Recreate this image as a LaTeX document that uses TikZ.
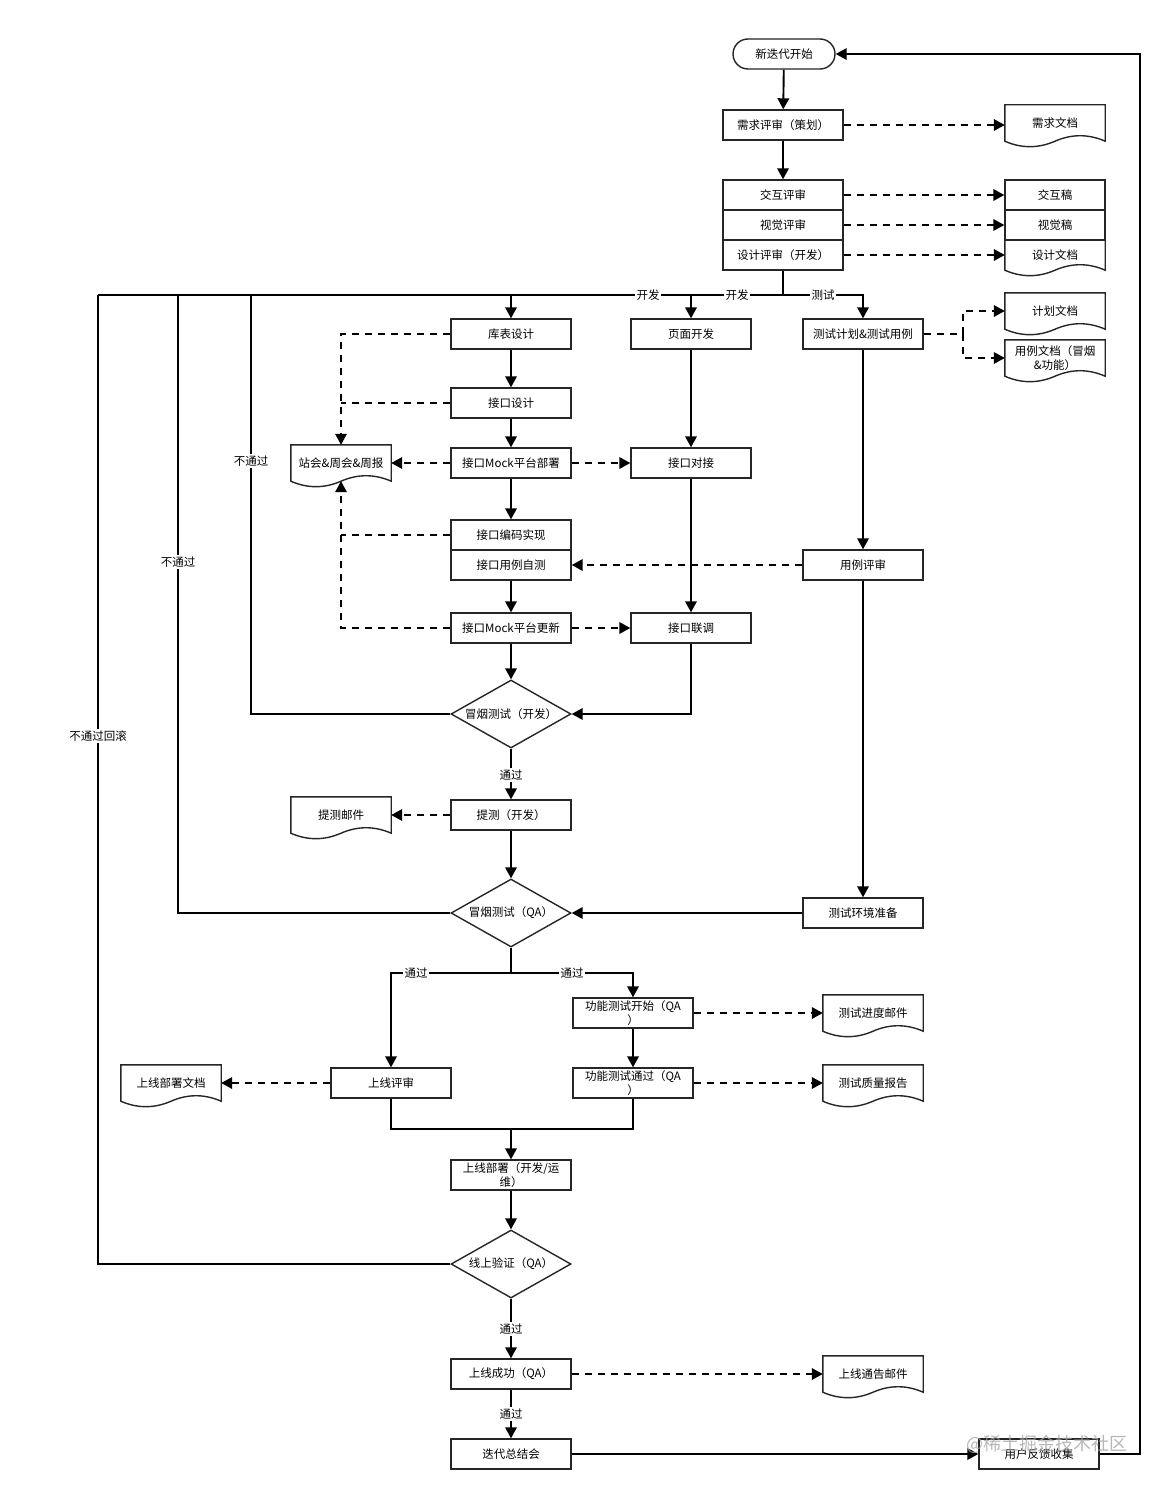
\documentclass[tikz,border=0pt]{standalone}
\usepackage{fontspec}
\setmainfont{Noto Sans CJK SC}
\usetikzlibrary{shapes.geometric,arrows.meta,calc}
\tikzset{
 box/.style={draw=black!85, line width=1.4pt, fill=white, minimum width=120pt, minimum height=30pt, inner sep=1pt, align=center},
 term/.style={box, rounded corners=15pt, minimum width=102pt},
 dec/.style={draw=black!85, line width=1.4pt, fill=white, diamond, minimum width=120pt, minimum height=68pt, inner sep=0pt, aspect=1.76},
 docn/.style={minimum width=100pt, minimum height=36pt, inner sep=1pt, align=center},
 docline/.style={draw=black!85, line width=1.4pt},
 conn/.style={line width=1.9pt, black},
 arr/.style={conn, -{Triangle[length=11pt,width=11.5pt]}},
 dconn/.style={conn, dash pattern=on 7pt off 6pt},
 darr/.style={dconn, -{Triangle[length=11pt,width=11.5pt]}},
 lbl/.style={fill=white, inner sep=1.5pt},
}
\newcommand{\docout}[1]{\path[docline] (#1.north west) -- (#1.north east) -- (#1.south east) .. controls ($(#1.south east)+(-16.7pt,7.3pt)$) and ($(#1.south)+(16.7pt,7.3pt)$) .. (#1.south) .. controls ($(#1.south)+(-16.7pt,-7.3pt)$) and ($(#1.south west)+(16.7pt,-7.3pt)$) .. (#1.south west) -- cycle;}
\begin{document}
\begin{tikzpicture}[x=1pt,y=-1pt, every node/.append style={font=\fontsize{11.5}{13.5}\selectfont}]
\useasboundingbox[fill=white] (0,0) rectangle (1164,1490);

% nodes
\node[term] (ns) at (784,54) {新迭代开始};
\node[box] (xqps) at (783,125) {需求评审（策划）};
\node[docn] (xqwd) at (1055,123) {需求文档}; \docout{xqwd}
\node[box] (jhps) at (783,195) {交互评审};
\node[box] (sjps1) at (783,225) {视觉评审};
\node[box] (sjps) at (783,255) {设计评审（开发）};
\node[box, minimum width=100pt] (jhg) at (1055,195) {交互稿};
\node[box, minimum width=100pt] (sjg) at (1055,225) {视觉稿};
\node[docn, minimum height=30pt] (sjwd) at (1055,255) {设计文档}; \docout{sjwd}

\node[box] (kbsj) at (511,334) {库表设计};
\node[box] (ymkf) at (691,334) {页面开发};
\node[box] (csjh) at (863,334) {测试计划\&测试用例};
\node[docn] (jhwd) at (1055,311) {计划文档}; \docout{jhwd}
\node[docn] (ylwd) at (1055,358) {用例文档（冒烟\\\&功能）}; \docout{ylwd}

\node[box] (jksj) at (511,403) {接口设计};
\node[docn] (zh) at (341,463) {站会\&周会\&周报}; \docout{zh}
\node[box] (mockbs) at (511,463) {接口Mock平台部署};
\node[box] (jkdj) at (691,463) {接口对接};
\node[box] (bmsx) at (511,535) {接口编码实现};
\node[box] (ylzc) at (511,565) {接口用例自测};
\node[box] (ylps) at (863,565) {用例评审};
\node[box] (mockgx) at (511,628) {接口Mock平台更新};
\node[box] (jklt) at (691,628) {接口联调};
\node[dec] (smk1) at (511,714) {冒烟测试（开发）};
\node[box] (tc) at (511,815) {提测（开发）};
\node[docn] (tcyj) at (341,815) {提测邮件}; \docout{tcyj}
\node[dec] (smk2) at (511,913) {冒烟测试（QA）};
\node[box] (hjzb) at (863,913) {测试环境准备};

\node[box] (sxps) at (391,1083) {上线评审};
\node[docn] (sxbswd) at (171,1083) {上线部署文档}; \docout{sxbswd}
\node[box] (gnks) at (633,1013) {功能测试开始（QA\\）};
\node[box] (gntg) at (633,1083) {功能测试通过（QA\\）};
\node[docn] (jdyj) at (873,1013) {测试进度邮件}; \docout{jdyj}
\node[docn] (zlbg) at (873,1083) {测试质量报告}; \docout{zlbg}
\node[box] (sxbs) at (511,1175) {上线部署（开发/运\\维）};
\node[dec] (xsyz) at (511,1264) {线上验证（QA）};
\node[box] (sxcg) at (511,1374) {上线成功（QA）};
\node[docn] (tgyj) at (873,1374) {上线通告邮件}; \docout{tgyj}
\node[box] (zjh) at (511,1454) {迭代总结会};
\node[box] (yhfk) at (1039,1454) {用户反馈收集};

% coordinates
\coordinate (split) at (783,295);
\coordinate (c98) at (98,295);
\coordinate (c178) at (178,295);
\coordinate (c251) at (251,295);
\coordinate (c691) at (691,295);
\coordinate (ds) at (963,334);
\coordinate (bq) at (511,973);
\coordinate (mg) at (511,1129);
\coordinate (rt) at (1140,1454);

% top flow
\draw[arr] (ns) -- (xqps);
\draw[arr] (xqps) -- (jhps);
\draw[darr] (xqps.east) -- (xqps.east -| xqwd.west);
\draw[darr] (jhps.east) -- (jhg.west);
\draw[darr] (sjps1.east) -- (sjg.west);
\draw[darr] (sjps.east) -- (sjwd.west);

\draw[conn] (sjps.south) -- (split);
\draw[arr] (split) -| (kbsj.north);
\draw[arr] (c691) -- (ymkf.north);
\draw[arr] (split) -| (csjh.north);
\draw[conn] (c98) -- (kbsj.north |- c98);

\draw[dconn] (csjh.east) -- (ds);
\draw[darr] (ds) |- (jhwd.west);
\draw[darr] (ds) |- (ylwd.west);

% dev column
\draw[arr] (kbsj) -- (jksj);
\draw[arr] (jksj) -- (mockbs);
\draw[arr] (mockbs) -- (bmsx);
\draw[arr] (ylzc) -- (mockgx);
\draw[arr] (mockgx) -- (smk1.north);
\draw[arr] (ymkf) -- (jkdj);
\draw[arr] (jkdj) -- (jklt);
\draw[arr] (jklt.south) |- (smk1.east);
\draw[arr] (csjh) -- (ylps);
\draw[arr] (ylps) -- (hjzb);

\draw[darr] (kbsj.west) -| (zh.north);
\draw[dconn] (jksj.west) -- (zh.north |- jksj.west);
\draw[darr] (mockbs.west) -- (zh.east);
\draw[darr] (mockbs.east) -- (jkdj.west);
\draw[dconn] (bmsx.west) -- (zh.north |- bmsx.west);
\draw[darr] (mockgx.west) -| (zh.south);
\draw[darr] (mockgx.east) -- (jklt.west);
\draw[darr] (ylps.west) -- (ylzc.east);

\draw[conn] (smk1.west) -| (c251);
\draw[arr] (smk1.south) -- (tc.north);
\draw[darr] (tc.west) -- (tcyj.east);
\draw[arr] (tc) -- (smk2.north);
\draw[arr] (hjzb) -- (smk2.east);
\draw[conn] (smk2.west) -| (c178);

% QA branch
\draw[conn] (smk2.south) -- (bq);
\draw[arr] (bq) -| (sxps.north);
\draw[arr] (bq) -| (gnks.north);
\draw[darr] (gnks.east) -- (jdyj.west);
\draw[arr] (gnks) -- (gntg);
\draw[darr] (gntg.east) -- (zlbg.west);
\draw[darr] (sxps.west) -- (sxbswd.east);
\draw[conn] (sxps.south) |- (gntg.south |- mg) -- (gntg.south);
\draw[arr] (mg) -- (sxbs.north);
\draw[arr] (sxbs) -- (xsyz.north);
\draw[conn] (xsyz.west) -| (c98);
\draw[arr] (xsyz.south) -- (sxcg.north);
\draw[darr] (sxcg.east) -- (tgyj.west);
\draw[arr] (sxcg) -- (zjh);
\draw[arr] (zjh) -- (yhfk);
\draw[arr] (yhfk.east) -- (rt) |- (ns.east);

% labels
\node[lbl] (l1) at (648,295) {开发};
\node[lbl] (l2) at (737,295) {开发};
\node[lbl] (l3) at (823,295) {测试};
\node[lbl] (l4) at (251,461) {不通过};
\node[lbl] (l5) at (178,562) {不通过};
\node[lbl] (l6) at (98,736) {不通过回滚};
\node[lbl] (l7) at (511,775) {通过};
\node[lbl] (l8) at (416,973) {通过};
\node[lbl] (l9) at (572,973) {通过};
\node[lbl] (l10) at (511,1329) {通过};
\node[lbl] (l11) at (511,1414) {通过};

% watermark
\node[text=black!35, opacity=0.8, font=\fontsize{18}{20}\selectfont] (wm) at (1047,1444) {@稀土掘金技术社区};
\end{tikzpicture}
\end{document}
